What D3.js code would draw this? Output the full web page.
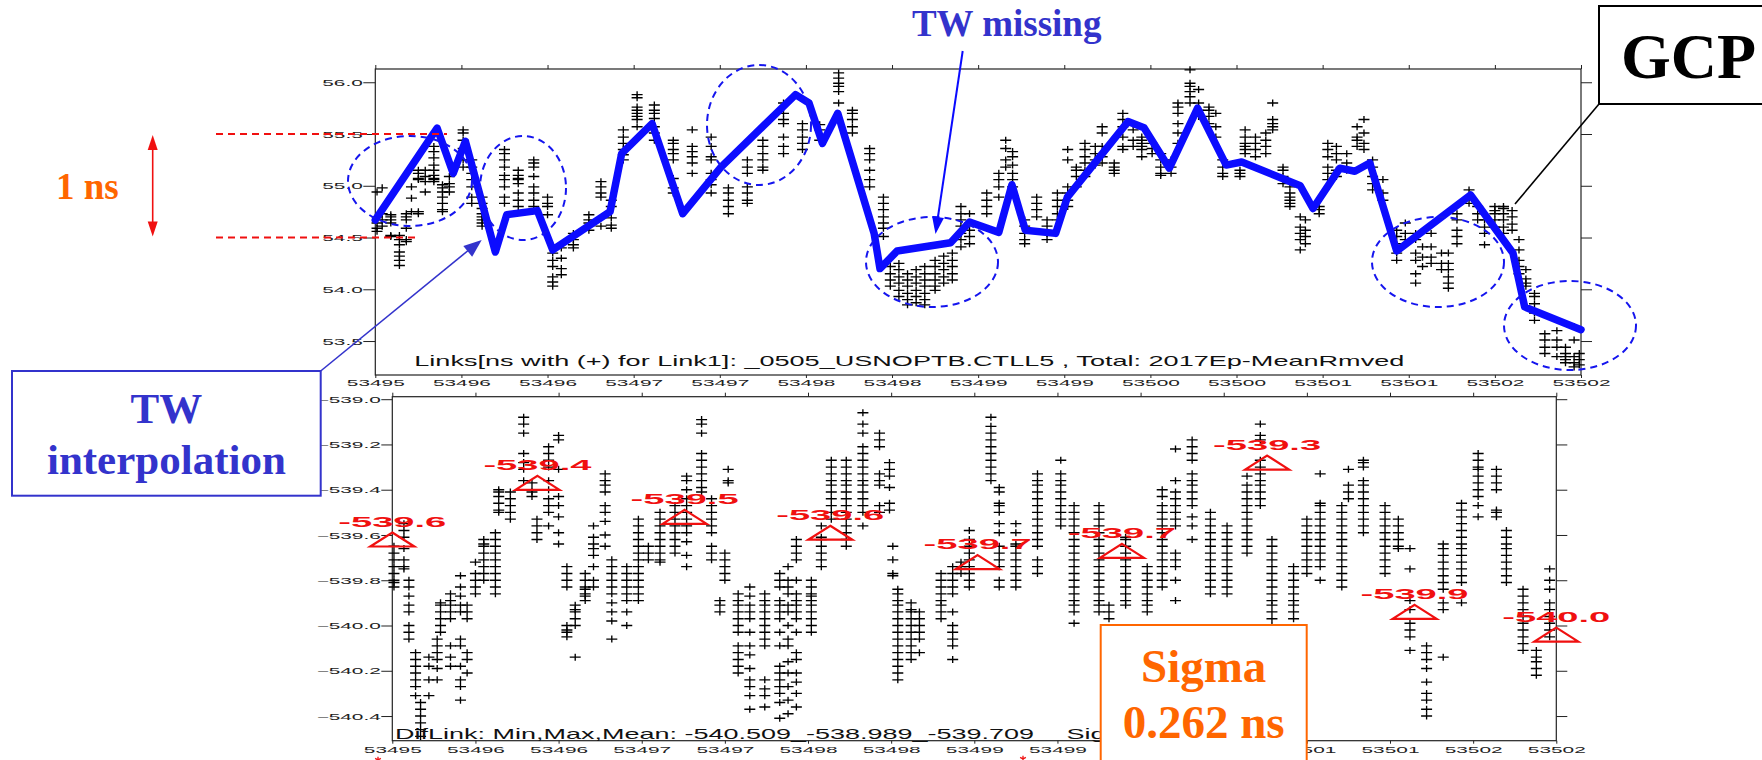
<!DOCTYPE html>
<html><head><meta charset="utf-8">
<script src="https://cdn.jsdelivr.net/npm/d3@7"></script>
<style>html,body{margin:0;padding:0;background:#fff;} svg{display:block;}</style>
</head><body>
<svg id="c" width="1762" height="760"></svg>
<script>
// ---------------- DATA ----------------
const xTicks = d3.range(53495, 53502.001, 0.5);
const topYTicks = [53.5, 54.0, 54.5, 55.0, 55.5, 56.0];
const botYTicks = [-540.4, -540.2, -540.0, -539.8, -539.6, -539.4, -539.2, -539.0];

// Link1 points (MJD, then values in ns)
const topTracks = [
[53495.01,54.94,54.70,54.64,54.59,54.56],
[53495.04,54.98,54.73,54.67,54.61],
[53495.09,54.72,54.70,54.67,54.64,54.52,54.51],
[53495.14,54.52,54.48,54.43,54.36,54.32,54.28,54.23],
[53495.18,54.73,54.70,54.67,54.59,54.48,54.46],
[53495.21,54.88,54.99,54.75],
[53495.25,55.07,55.06,55.12,55.15,54.75,54.73],
[53495.29,55.09,55.04,55.15,54.94],
[53495.34,55.38,55.33,55.27,55.20,55.15,55.10,55.07,55.06,55.04],
[53495.39,55.01,54.98,54.94,54.89,54.83,54.77,54.75],
[53495.43,55.09,55.02,54.99,54.94],
[53495.51,55.54,55.51,55.44,55.36,55.25,55.18],
[53495.56,55.25,55.18,55.12,55.06,54.99,54.89,54.83],
[53495.62,54.89,54.83,54.78,54.73,54.70,54.67,54.64,54.61],
[53495.75,55.35,55.31,55.25,55.18,55.10,55.06,54.99,54.89,54.83],
[53495.83,55.15,55.10,55.07,55.06,55.02,54.93,54.86,54.80],
[53495.92,55.25,55.22,55.18,55.09,54.99,54.93,54.86,54.80],
[53496.00,54.89,54.83,54.80,54.72],
[53496.03,54.35,54.28,54.22,54.12,54.07,54.03],
[53496.08,54.40,54.30,54.20,54.14],
[53496.15,54.54,54.48,54.43,54.40],
[53496.24,54.72,54.67,54.64,54.61,54.57],
[53496.31,55.04,54.99,54.93,54.89,54.61],
[53496.37,54.69,54.62,54.59,54.86,54.80],
[53496.44,55.54,55.47,55.41,55.35,55.30,55.25],
[53496.52,55.88,55.85,55.76,55.73,55.70,55.67,55.64,55.57],
[53496.62,55.78,55.73,55.70,55.65,55.57,55.51,55.44],
[53496.73,55.44,55.41,55.35,55.31,55.25,55.07,54.98,54.93],
[53496.84,55.54,55.38,55.33,55.28,55.22,55.12],
[53496.95,55.47,55.38,55.28,55.25,55.12,55.06,55.01,54.93],
[53497.05,54.98,54.93,54.86,54.80,54.73],
[53497.16,55.25,55.18,55.12,54.99,54.93,54.86,54.83],
[53497.25,55.44,55.38,55.31,55.25,55.18,55.15],
[53497.37,55.80,55.70,55.64,55.60,55.47,55.38,55.31],
[53497.48,55.60,55.54,55.47,55.41,55.35],
[53497.58,55.59,55.54,55.44],
[53497.69,56.09,56.04,55.99,55.96,55.91,55.80],
[53497.77,55.73,55.70,55.64,55.57,55.51],
[53497.87,55.36,55.31,55.25,55.15,55.06,54.99],
[53497.95,54.89,54.83,54.77,54.70,54.64,54.59,54.51],
[53497.99,54.22,54.15,54.09,54.03],
[53498.04,54.25,54.19,54.12,54.06,53.99,53.93],
[53498.09,54.15,54.09,54.03,53.96,53.90,53.85],
[53498.14,54.19,54.12,54.06,53.99,53.93,53.87],
[53498.19,54.22,54.15,54.09,54.03,53.96,53.90,53.85],
[53498.25,54.28,54.22,54.15,54.09,54.03,53.99],
[53498.30,54.32,54.25,54.19,54.12,54.06],
[53498.35,54.35,54.28,54.22,54.15,54.09],
[53498.40,54.80,54.73,54.67,54.61,54.54,54.48,54.41],
[53498.45,54.73,54.64,54.57,54.51,54.44],
[53498.55,54.93,54.86,54.80,54.73],
[53498.62,55.12,55.06,54.99,54.89],
[53498.66,55.44,55.36,55.25,55.18],
[53498.70,55.33,55.28,55.20,55.12,55.06,54.99],
[53498.77,54.67,54.61,54.54,54.48,54.44],
[53498.84,54.89,54.83,54.77,54.70],
[53498.90,54.67,54.61,54.54,54.48],
[53498.96,54.93,54.86,54.80,54.73,54.67],
[53499.02,54.99,54.93,54.86,54.80,55.35,55.25],
[53499.07,55.18,55.15,55.09,54.99],
[53499.12,55.41,55.35,55.28,55.22,55.15,55.09],
[53499.18,55.38,55.31,55.25,55.20],
[53499.22,55.57,55.51,55.38,55.28,55.22],
[53499.29,55.22,55.18,55.15,55.12],
[53499.34,55.70,55.64,55.57,55.47,55.38,55.35],
[53499.40,55.60,55.54,55.44,55.38],
[53499.45,55.47,55.44,55.41,55.38,55.35,55.28],
[53499.51,55.41,55.36,55.31],
[53499.56,55.31,55.25,55.18,55.12,55.10],
[53499.62,55.25,55.18,55.12],
[53499.66,55.80,55.76,55.70,55.60,55.51,55.41],
[53499.73,56.12,55.99,55.96,55.91,55.86,55.80],
[53499.78,55.93,55.80,55.73,55.67],
[53499.84,55.76,55.73,55.67,55.60],
[53499.88,55.70,55.57,55.47],
[53499.92,55.25,55.18,55.12,55.09],
[53500.02,55.15,55.12,55.09],
[53500.05,55.54,55.47,55.41,55.38,55.35,55.31],
[53500.11,55.47,55.41,55.35,55.28],
[53500.17,55.51,55.44,55.38,55.31],
[53500.21,55.80,55.64,55.60,55.57,55.54],
[53500.27,55.18,55.15,55.09,55.02],
[53500.31,54.99,54.93,54.89,54.86,54.83,54.80],
[53500.37,54.70,54.60,54.54,54.48,54.38],
[53500.40,54.67,54.57,54.51,54.44],
[53500.48,54.80,54.77,54.73],
[53500.53,55.41,55.35,55.28,55.18,55.12,55.06],
[53500.58,55.38,55.31,55.25,55.15,55.09],
[53500.64,55.31,55.22,55.15],
[53500.70,55.57,55.47,55.44,55.38],
[53500.74,55.64,55.51,55.41,55.35],
[53500.79,55.25,55.18,55.09,55.02,54.96],
[53500.85,55.06,54.93,54.86],
[53500.93,54.57,54.51,54.44,54.35,54.28],
[53500.98,54.64,54.54,54.48],
[53501.04,54.54,54.48,54.35,54.28,54.15,54.06],
[53501.08,54.41,54.31,54.22],
[53501.13,54.54,54.41,54.31,54.25],
[53501.19,54.35,54.25,54.19],
[53501.23,54.35,54.25,54.19,54.12,54.06,54.01],
[53501.28,54.73,54.67,54.57,54.51,54.44],
[53501.35,54.96,54.89,54.83],
[53501.40,54.80,54.73,54.67],
[53501.44,54.67,54.60,54.54,54.43],
[53501.50,54.80,54.76,54.73,54.67,54.60],
[53501.55,54.80,54.78,54.73,54.67,54.60,54.54],
[53501.60,54.76,54.70,54.63,54.57],
[53501.64,54.48,54.38,54.28,54.22,54.15],
[53501.68,54.06,54.03,54.10,54.19],
[53501.73,53.96,53.93,53.86,53.77,53.70],
[53501.79,53.57,53.51,53.44,53.38],
[53501.86,53.60,53.51,53.44,53.35],
[53501.91,53.44,53.38,53.35,53.32,53.29],
[53501.96,53.64,53.51,53.35,53.29,53.25],
[53501.99,53.38,53.32,53.27]
];

// GCP / TW interpolation curve
const gcpMjd = [53495.0,53495.359,53495.452,53495.523,53495.697,53495.763,53495.941,53496.03,53496.363,53496.43,53496.607,53496.785,53497.007,53497.44,53497.518,53497.596,53497.685,53497.896,53497.93,53498.03,53498.34,53498.45,53498.62,53498.696,53498.774,53498.95,53499.018,53499.37,53499.463,53499.61,53499.774,53499.94,53500.03,53500.37,53500.444,53500.6,53500.687,53500.774,53500.93,53501.359,53501.605,53501.673,53502.0];
const gcpVal = [54.67,55.556,55.12,55.43,54.36,54.72,54.76,54.38,54.75,55.31,55.60,54.73,55.18,55.88,55.80,55.41,55.70,54.54,54.20,54.37,54.45,54.65,54.55,55.01,54.57,54.54,54.89,55.62,55.56,55.17,55.75,55.20,55.23,55.00,54.78,55.17,55.14,55.22,54.37,54.91,54.35,53.83,53.61];

// DifLink points (MJD, then values in ns)
const botTracks = [
[53495.01,-539.65,-539.68,-539.71,-539.74,-539.77,-539.80,-539.81,-539.83],
[53495.07,-539.55,-539.58,-539.61,-539.66,-539.71,-539.74,-539.75],
[53495.10,-539.80,-539.83,-539.87,-539.91,-539.94,-540.00,-540.03,-540.06],
[53495.14,-540.12,-540.15,-540.18,-540.21,-540.24,-540.27,-540.31],
[53495.17,-540.34,-540.37,-540.40,-540.43,-540.46,-540.49],
[53495.22,-540.14,-540.18,-540.24,-540.31],
[53495.27,-540.06,-540.09,-540.12,-540.15,-540.19,-540.24],
[53495.29,-539.90,-539.91,-539.94,-539.97,-540.00,-540.03],
[53495.35,-539.86,-539.89,-539.91,-539.94,-539.97,-540.09,-540.14,-540.18],
[53495.41,-539.78,-539.83,-539.87,-539.91,-539.94,-540.06,-540.09,-540.18,-540.24,-540.27,-540.33],
[53495.45,-539.91,-539.94,-539.97,-540.12,-540.15,-540.21],
[53495.50,-539.72,-539.77,-539.80,-539.83,-539.86],
[53495.55,-539.62,-539.64,-539.65,-539.68,-539.71,-539.74,-539.77,-539.80],
[53495.62,-539.59,-539.62,-539.65,-539.68,-539.71,-539.74,-539.77,-539.80,-539.83,-539.86],
[53495.64,-539.40,-539.41,-539.43,-539.46,-539.49,-539.50],
[53495.71,-539.41,-539.44,-539.47,-539.50,-539.53],
[53495.79,-539.08,-539.11,-539.15,-539.24,-539.28,-539.31,-539.36],
[53495.84,-539.37,-539.40,-539.41,-539.43],
[53495.87,-539.53,-539.56,-539.59,-539.62],
[53495.94,-539.21,-539.24,-539.27,-539.30,-539.36,-539.40,-539.44,-539.47,-539.50,-539.56],
[53496.00,-539.16,-539.18,-539.31,-539.43,-539.47,-539.52,-539.59,-539.64],
[53496.05,-539.74,-539.77,-539.80,-539.83,-540.00,-540.02,-540.03,-540.05],
[53496.10,-539.91,-539.93,-539.94,-539.97,-540.00,-540.14],
[53496.16,-539.77,-539.80,-539.83,-539.84,-539.86,-539.87,-539.89],
[53496.21,-539.56,-539.61,-539.64,-539.66,-539.69,-539.74,-539.80,-539.83],
[53496.28,-539.33,-539.36,-539.38,-539.41,-539.47,-539.50,-539.54,-539.60,-539.65],
[53496.32,-539.71,-539.74,-539.77,-539.80,-539.83,-539.86,-539.90,-539.94,-539.98,-540.06],
[53496.41,-539.74,-539.77,-539.80,-539.83,-539.86,-539.89,-539.94,-540.00],
[53496.48,-539.53,-539.56,-539.59,-539.62,-539.65,-539.68,-539.71,-539.74,-539.77,-539.80,-539.83,-539.86,-539.89],
[53496.54,-539.65,-539.68,-539.71],
[53496.61,-539.50,-539.53,-539.56,-539.59,-539.62,-539.65,-539.68,-539.71,-539.72],
[53496.70,-539.47,-539.50,-539.53,-539.56,-539.59,-539.62,-539.65,-539.68],
[53496.77,-539.34,-539.36,-539.40,-539.44,-539.47,-539.50,-539.53,-539.56,-539.59,-539.63,-539.69,-539.74],
[53496.86,-539.09,-539.11,-539.15,-539.24,-539.27,-539.30,-539.33,-539.36,-539.39,-539.41],
[53496.92,-539.44,-539.47,-539.50,-539.53,-539.56,-539.59,-539.65,-539.68,-539.71],
[53496.97,-539.89,-539.91,-539.94],
[53497.00,-539.68,-539.71,-539.74,-539.77,-539.80],
[53497.02,-539.31,-539.36,-539.37],
[53497.08,-539.86,-539.89,-539.91,-539.94,-539.97,-540.00,-540.03,-540.09,-540.12,-540.15,-540.18,-540.21],
[53497.15,-539.83,-539.87,-539.91,-539.94,-539.97,-540.03,-540.09,-540.13,-540.19,-540.24,-540.27,-540.31,-540.37],
[53497.24,-539.86,-539.89,-539.91,-539.94,-539.97,-540.00,-540.03,-540.06,-540.09,-540.24,-540.28,-540.31,-540.36],
[53497.33,-539.77,-539.80,-539.83,-539.89,-539.91,-539.94,-539.97,-540.03,-540.09,-540.18,-540.21,-540.24,-540.27,-540.30,-540.34,-540.41],
[53497.38,-539.74,-539.80,-539.83,-539.86,-539.91,-539.94,-540.00,-540.06,-540.09,-540.16,-540.21,-540.27,-540.33,-540.39],
[53497.43,-539.62,-539.65,-539.68,-539.71,-539.80,-539.86,-539.89,-539.91,-539.94,-539.97,-540.03,-540.12,-540.15,-540.21,-540.25,-540.30,-540.36],
[53497.52,-539.80,-539.83,-539.86,-539.87,-539.89,-539.91,-539.94,-539.97,-540.00,-540.03],
[53497.58,-539.56,-539.61,-539.62,-539.65,-539.68,-539.71,-539.74],
[53497.64,-539.27,-539.30,-539.33,-539.36,-539.38,-539.41,-539.44,-539.47,-539.50,-539.53],
[53497.73,-539.27,-539.30,-539.33,-539.36,-539.38,-539.41,-539.44,-539.47,-539.50,-539.53,-539.56,-539.59,-539.62,-539.65],
[53497.83,-539.06,-539.11,-539.15,-539.21,-539.24,-539.27,-539.30,-539.33,-539.36,-539.38,-539.41,-539.44,-539.47,-539.50,-539.56],
[53497.93,-539.15,-539.18,-539.21,-539.33,-539.36,-539.38,-539.47,-539.50],
[53497.99,-539.28,-539.31,-539.34,-539.39,-539.46,-539.49],
[53498.01,-539.65,-539.71,-539.77,-539.78],
[53498.04,-539.84,-539.86,-539.89,-539.91,-539.94,-539.97,-540.00,-540.03,-540.06,-540.09,-540.12,-540.15,-540.18,-540.21,-540.24],
[53498.12,-539.90,-539.93,-539.94,-539.97,-540.00,-540.03,-540.06,-540.09,-540.12,-540.15],
[53498.17,-539.94,-539.97,-540.00,-540.03,-540.06,-540.12],
[53498.30,-539.77,-539.80,-539.83,-539.86,-539.89,-539.91,-539.94,-539.97],
[53498.37,-539.74,-539.77,-539.80,-539.83,-539.86,-539.94,-540.00,-540.03,-540.06,-540.09,-540.15],
[53498.42,-539.72,-539.74,-539.77],
[53498.47,-539.58,-539.62,-539.65,-539.68,-539.71,-539.74,-539.77,-539.80,-539.83],
[53498.60,-539.08,-539.12,-539.15,-539.18,-539.21,-539.24,-539.27,-539.30,-539.33,-539.36],
[53498.65,-539.39,-539.41,-539.46,-539.47,-539.50,-539.55,-539.59,-539.65,-539.68,-539.71,-539.74,-539.80,-539.83],
[53498.75,-539.55,-539.59,-539.64,-539.65,-539.68,-539.71,-539.74,-539.77,-539.80,-539.83],
[53498.88,-539.33,-539.36,-539.38,-539.41,-539.44,-539.47,-539.50,-539.53,-539.56,-539.59,-539.62,-539.65,-539.71,-539.74,-539.77],
[53499.02,-539.27,-539.33,-539.36,-539.38,-539.41,-539.44,-539.47,-539.50,-539.53,-539.56],
[53499.10,-539.47,-539.50,-539.53,-539.56,-539.59,-539.62,-539.65,-539.68,-539.71,-539.74,-539.77,-539.80,-539.83,-539.86,-539.89,-539.91,-539.94,-539.99],
[53499.25,-539.47,-539.50,-539.53,-539.56,-539.59,-539.62,-539.65,-539.68,-539.71,-539.74,-539.77,-539.80,-539.83,-539.86,-539.89,-539.91,-539.94],
[53499.31,-539.91,-539.94,-539.97],
[53499.41,-539.61,-539.62,-539.65,-539.68,-539.71,-539.74,-539.77,-539.80,-539.83,-539.86,-539.89,-539.91],
[53499.54,-539.74,-539.77,-539.80,-539.83,-539.86,-539.89,-539.91,-539.94],
[53499.63,-539.40,-539.43,-539.47,-539.50,-539.53,-539.56,-539.59,-539.62,-539.65,-539.68,-539.71,-539.74,-539.77,-539.80,-539.83],
[53499.71,-539.22,-539.36,-539.41,-539.44,-539.47,-539.50,-539.53,-539.56,-539.68,-539.71,-539.74,-539.80,-539.89],
[53499.81,-539.18,-539.21,-539.24,-539.27,-539.33,-539.36,-539.38,-539.41,-539.44,-539.47,-539.52,-539.56,-539.62],
[53499.92,-539.50,-539.53,-539.56,-539.59,-539.62,-539.65,-539.68,-539.71,-539.74,-539.77,-539.80,-539.83,-539.86],
[53500.02,-539.56,-539.59,-539.62,-539.65,-539.68,-539.71,-539.74,-539.77,-539.80,-539.83,-539.86],
[53500.14,-539.34,-539.38,-539.41,-539.44,-539.47,-539.50,-539.53,-539.56,-539.59,-539.62,-539.65,-539.68],
[53500.22,-539.11,-539.16,-539.18,-539.27,-539.30,-539.33,-539.36,-539.38,-539.41,-539.44,-539.47],
[53500.29,-539.62,-539.65,-539.68,-539.71,-539.74,-539.77,-539.80,-539.83,-539.86,-539.89,-539.91,-539.94,-539.97,-540.00],
[53500.42,-539.74,-539.77,-539.80,-539.83,-539.86,-539.89,-539.91,-539.94,-539.97],
[53500.50,-539.53,-539.56,-539.59,-539.62,-539.65,-539.68,-539.71,-539.74,-539.77],
[53500.58,-539.33,-539.46,-539.47,-539.50,-539.53,-539.56,-539.59,-539.62,-539.65,-539.68,-539.71,-539.74,-539.80],
[53500.71,-539.47,-539.50,-539.53,-539.56,-539.59,-539.62,-539.65,-539.68,-539.71,-539.74,-539.77,-539.80,-539.83],
[53500.75,-539.31,-539.38,-539.41,-539.44],
[53500.84,-539.27,-539.28,-539.30,-539.36,-539.38,-539.41,-539.44,-539.47,-539.50,-539.53,-539.56,-539.59],
[53500.97,-539.47,-539.50,-539.53,-539.56,-539.59,-539.62,-539.65,-539.68,-539.71,-539.74,-539.77],
[53501.05,-539.53,-539.56,-539.59,-539.62,-539.65,-539.66],
[53501.12,-539.66,-539.75,-539.89,-539.93,-539.99,-540.02,-540.05,-540.11],
[53501.22,-540.09,-540.12,-540.15,-540.19,-540.25,-540.30,-540.33,-540.37,-540.40],
[53501.32,-539.64,-539.66,-539.69,-539.72,-539.75,-539.78,-539.81,-539.84,-539.90,-539.93,-540.14],
[53501.43,-539.46,-539.49,-539.52,-539.55,-539.58,-539.61,-539.64,-539.66,-539.69,-539.72,-539.75,-539.78,-539.81,-539.90],
[53501.53,-539.24,-539.27,-539.30,-539.31,-539.34,-539.37,-539.40,-539.43,-539.47,-539.52],
[53501.64,-539.31,-539.34,-539.37,-539.40,-539.49,-539.50,-539.52],
[53501.70,-539.58,-539.61,-539.64,-539.66,-539.69,-539.72,-539.75,-539.78,-539.81],
[53501.80,-539.84,-539.87,-539.90,-539.93,-539.96,-539.99,-540.02,-540.05,-540.08,-540.11],
[53501.88,-540.11,-540.14,-540.16,-540.19,-540.22],
[53501.96,-539.75,-539.80,-539.84,-539.90,-539.93,-539.96,-539.99,-540.02,-540.05]
];

// daily means (red triangles)
const meanMjd = [53495.0,53495.873,53496.758,53497.634,53498.52,53499.388,53500.261,53501.148,53502.0];
const meanVal = [-539.62,-539.37,-539.52,-539.59,-539.72,-539.67,-539.28,-539.94,-540.04];
const meanLabels = ["-539.6","-539.4","-539.5","-539.6","-539.7","-539.7","-539.3","-539.9","-540.0"];

const topCaption = "Links[ns with (+) for Link1]: _0505_USNOPTB.CTLL5 , Total: 2017Ep-MeanRmved";
const botCaption = "DifLink: Min,Max,Mean: -540.509_-538.989_-539.709";
const botCaption2 = "Sig";

// ---------------- CHART ----------------
const svg = d3.select("#c");
const SANS = "'Liberation Sans', Arial, sans-serif";
const SERIF = "'Liberation Serif', 'Times New Roman', serif";
const SX = 2.37;
const fmtX = d3.format(".0f"), fmtY = d3.format(".1f");

const xTop = d3.scaleLinear().domain([53495, 53502]).range([375.3, 1581]);
const yTop = d3.scaleLinear().domain([53.172, 56.128]).range([375, 69]);
const xBot = d3.scaleLinear().domain([53495, 53502]).range([392.3, 1556.3]);
const yBot = d3.scaleLinear().domain([-540.509, -538.989]).range([740.7, 396.7]);

function panel(x, y, yTicks, tickLen, xLabelOff) {
  const [x0, x1] = x.range(), [yb, yt] = y.range();
  const g = svg.append("g");
  const style = a => a.attr("font-family", SANS).attr("font-size", 8.8).style("color", "#222");
  const left = g.append("g").attr("transform", `translate(${x0},0)`)
    .call(d3.axisLeft(y).tickValues(yTicks).tickSize(tickLen).tickSizeOuter(0).tickFormat(fmtY));
  style(left); left.select(".domain").remove();
  left.selectAll("text").attr("x", -(tickLen + 0.5) / SX).attr("dy", "0.36em").attr("transform", `scale(${SX},1)`);
  const right = g.append("g").attr("transform", `translate(${x1},0)`)
    .call(d3.axisRight(y).tickValues(yTicks).tickSize(11).tickSizeOuter(0).tickFormat(""));
  style(right); right.select(".domain").remove();
  const top = g.append("g").attr("transform", `translate(0,${yt})`)
    .call(d3.axisTop(x).tickValues(xTicks).tickSize(4).tickSizeOuter(0).tickFormat(""));
  style(top); top.select(".domain").remove();
  const bot = g.append("g").attr("transform", `translate(0,${yb})`)
    .call(d3.axisBottom(x).tickValues(xTicks).tickSize(3).tickSizeOuter(0).tickFormat(fmtX));
  style(bot); bot.select(".domain").remove();
  bot.selectAll("text").attr("y", xLabelOff).attr("dy", "0.36em").attr("transform", `scale(${SX},1)`);
  g.append("rect").attr("x", x0).attr("y", yt).attr("width", x1 - x0).attr("height", yb - yt)
    .attr("fill", "none").attr("stroke", "#222").attr("stroke-width", 1.2);
}

function markers(tracks, x, y) {
  const pts = [];
  tracks.forEach(t => { for (let i = 1; i < t.length; i++) pts.push([t[0], t[i]]); });
  svg.append("g").selectAll("path").data(pts).join("path")
    .attr("d", d => `M${x(d[0]) - 5.5},${y(d[1])}h11M${x(d[0])},${y(d[1]) - 3.5}v7`)
    .attr("stroke", "#000").attr("stroke-width", 1.35).attr("fill", "none");
}

panel(xTop, yTop, topYTicks, 12, 8);
panel(xBot, yBot, botYTicks, 11, 9.3);
markers(topTracks, xTop, yTop);
markers(botTracks, xBot, yBot);

// GCP curve
svg.append("path").datum(gcpMjd.map((m, i) => [m, gcpVal[i]]))
  .attr("d", d3.line().x(d => xTop(d[0])).y(d => yTop(d[1])))
  .attr("fill", "none").attr("stroke", "#0c0cff").attr("stroke-width", 7.5)
  .attr("stroke-linejoin", "round").attr("stroke-linecap", "round");

// captions inside panels
function stretched(txt, x, y, w, size, fill, weight) {
  const t = svg.append("text").attr("x", x).attr("y", y).attr("font-family", SANS)
    .attr("font-size", size).attr("fill", fill).attr("font-weight", weight || "normal").text(txt);
  const nat = t.node().getComputedTextLength();
  t.attr("textLength", w).attr("lengthAdjust", "spacingAndGlyphs");
  return w / nat;
}
stretched(topCaption, 414.3, 366, 990, 15, "#111");
const k = stretched(botCaption, 395, 738.5, 639, 15, "#111");
{
  const t = svg.append("text").attr("x", 1066.5).attr("y", 738.5).attr("font-family", SANS)
    .attr("font-size", 15).attr("fill", "#111").text(botCaption2);
  t.attr("textLength", t.node().getComputedTextLength() * k).attr("lengthAdjust", "spacingAndGlyphs");
}

// red triangles + labels
const tri = svg.append("g");
meanMjd.forEach((m, i) => {
  const cx = xBot(m), cy = yBot(meanVal[i]);
  tri.append("path").attr("d", `M${cx},${cy - 7}L${cx + 22},${cy + 7}L${cx - 22},${cy + 7}Z`)
    .attr("fill", "none").attr("stroke", "#f01010").attr("stroke-width", 2.2);
  const t = tri.append("text").attr("x", cx - 54).attr("y", cy - 13).attr("font-family", SANS)
    .attr("font-size", 15).attr("font-weight", "bold").attr("fill", "#f01010").text(meanLabels[i]);
  t.attr("textLength", 108).attr("lengthAdjust", "spacingAndGlyphs");
});

// dashed ellipses
const ell = [[410,181,62,45],[523,188,43,52],[759,125,52,60],[932,262,66,45],[1438,262,66,45],[1570,325.5,66,44.5]];
svg.append("g").selectAll("ellipse").data(ell).join("ellipse")
  .attr("cx", d => d[0]).attr("cy", d => d[1]).attr("rx", d => d[2]).attr("ry", d => d[3])
  .attr("fill", "none").attr("stroke", "#1515ee").attr("stroke-width", 2).attr("stroke-dasharray", "7,5");

// red dashed 1 ns markers
svg.append("line").attr("x1", 216).attr("x2", 447).attr("y1", yTop(55.5)).attr("y2", yTop(55.5))
  .attr("stroke", "#f01010").attr("stroke-width", 2).attr("stroke-dasharray", "7,5");
svg.append("line").attr("x1", 216).attr("x2", 415).attr("y1", yTop(54.5)).attr("y2", yTop(54.5))
  .attr("stroke", "#f01010").attr("stroke-width", 2).attr("stroke-dasharray", "7,5");

function arrowHead(x1, y1, x2, y2, len, hw, fill) {
  const a = Math.atan2(y2 - y1, x2 - x1), c = Math.cos(a), s = Math.sin(a);
  const bx = x2 - len * c, by = y2 - len * s;
  svg.append("path").attr("d", `M${x2},${y2}L${bx - hw * s},${by + hw * c}L${bx + hw * s},${by - hw * c}Z`).attr("fill", fill);
}
// double arrow
svg.append("line").attr("x1", 152.7).attr("x2", 152.7).attr("y1", 145).attr("y2", 231).attr("stroke", "#f01010").attr("stroke-width", 1.6);
arrowHead(152.7, 200, 152.7, yTop(55.5) + 1, 15, 5, "#f01010");
arrowHead(152.7, 170, 152.7, yTop(54.5) - 1, 15, 5, "#f01010");
svg.append("text").attr("x", 56).attr("y", 199).attr("font-family", SERIF).attr("font-weight", "bold")
  .attr("font-size", 37).attr("fill", "#ff6600").text("1 ns");

// TW interpolation box
svg.append("rect").attr("x", 12).attr("y", 371).attr("width", 308.7).attr("height", 124.7)
  .attr("fill", "#fff").attr("stroke", "#3333cc").attr("stroke-width", 2);
svg.append("text").attr("x", 166.4).attr("y", 422.7).attr("text-anchor", "middle").attr("font-family", SERIF)
  .attr("font-weight", "bold").attr("font-size", 43).attr("fill", "#3333cc").text("TW");
svg.append("text").attr("x", 166.4).attr("y", 474).attr("text-anchor", "middle").attr("font-family", SERIF)
  .attr("font-weight", "bold").attr("font-size", 43).attr("fill", "#3333cc").text("interpolation");
svg.append("line").attr("x1", 320.7).attr("y1", 371).attr("x2", 470).attr("y2", 249)
  .attr("stroke", "#3333cc").attr("stroke-width", 1.6);
arrowHead(320.7, 371, 481.7, 240, 18, 7, "#3333cc");

// TW missing
svg.append("text").attr("x", 1006.7).attr("y", 36).attr("text-anchor", "middle").attr("font-family", SERIF)
  .attr("font-weight", "bold").attr("font-size", 37).attr("fill", "#3333cc").text("TW missing");
svg.append("line").attr("x1", 962.7).attr("y1", 51).attr("x2", 937.5).attr("y2", 220)
  .attr("stroke", "#0a0aff").attr("stroke-width", 2);
arrowHead(962.7, 51, 935.5, 234, 17, 6, "#0a0aff");

// GCP box
svg.append("line").attr("x1", 1599).attr("y1", 104).attr("x2", 1515).attr("y2", 204).attr("stroke", "#000").attr("stroke-width", 1.6);
svg.append("rect").attr("x", 1599).attr("y", 6).attr("width", 200).attr("height", 98)
  .attr("fill", "#fff").attr("stroke", "#000").attr("stroke-width", 2);
svg.append("text").attr("x", 1621).attr("y", 78.3).attr("font-family", SERIF).attr("font-weight", "bold")
  .attr("font-size", 64).attr("fill", "#000").text("GCP");

// Sigma box
svg.append("rect").attr("x", 1100.7).attr("y", 625).attr("width", 206).attr("height", 200)
  .attr("fill", "#fff").attr("stroke", "#ff6600").attr("stroke-width", 2);
svg.append("text").attr("x", 1203.7).attr("y", 681.7).attr("text-anchor", "middle").attr("font-family", SERIF)
  .attr("font-weight", "bold").attr("font-size", 47).attr("fill", "#ff6600").text("Sigma");
svg.append("text").attr("x", 1203.7).attr("y", 738.3).attr("text-anchor", "middle").attr("font-family", SERIF)
  .attr("font-weight", "bold").attr("font-size", 47).attr("fill", "#ff6600").text("0.262 ns");

// small red star marks at the bottom edge
[[378, 760], [1023, 759]].forEach(p => svg.append("path")
  .attr("transform", `translate(${p[0]},${p[1]})`)
  .attr("d", d3.symbol(d3.symbolAsterisk, 30)())
  .attr("fill", "none").attr("stroke", "#f01010").attr("stroke-width", 1.3));
</script>
</body></html>
